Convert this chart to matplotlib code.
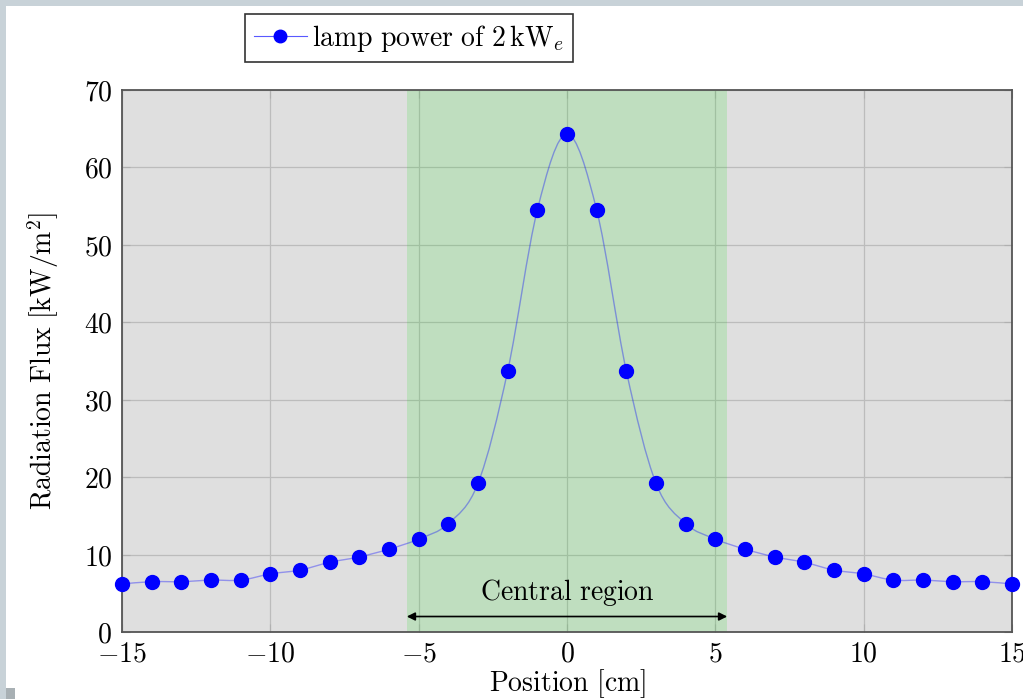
import numpy as np
import matplotlib
matplotlib.use('Agg')
import matplotlib.pyplot as plt
from matplotlib.path import Path
from matplotlib.patches import PathPatch, Rectangle
from matplotlib.ticker import FuncFormatter

plt.rcParams['mathtext.fontset'] = 'cm'
plt.rcParams['font.family'] = 'serif'

# data
position = [-15, -14, -13, -12, -11, -10, -9, -8, -7, -6, -5, -4, -3, -2, -1,
            0, 1, 2, 3, 4, 5, 6, 7, 8, 9, 10, 11, 12, 13, 14, 15]
flux = [6.2, 6.5, 6.5, 6.7, 6.7, 7.5, 8.0, 9.0, 9.7, 10.7, 12.0, 14.0, 19.2, 33.7, 54.5,
        64.3, 54.5, 33.7, 19.2, 14.0, 12.0, 10.7, 9.7, 9.0, 8.0, 7.5, 6.7, 6.7, 6.5, 6.5, 6.2]
central_lo, central_hi = -5.4, 5.4

fs = 20

fig = plt.figure(figsize=(10.23, 6.99), dpi=100, facecolor='#c8d2d8')
fig.patches.append(Rectangle((6/1023, 0), 1, 1 - 6/699, transform=fig.transFigure,
                             facecolor='white', edgecolor='none', zorder=-10))
fig.patches.append(Rectangle((6/1023, 0), 9/1023, 11/699, transform=fig.transFigure,
                             facecolor='#a8b0b4', edgecolor='none', zorder=-9))
ax = fig.add_axes([122/1023, 67/699, 890/1023, 542/699])
ax.set_facecolor('#dfdfdf')

ax.set_xlim(-15, 15)
ax.set_ylim(0, 70)
ax.set_xticks([-15, -10, -5, 0, 5, 10, 15])
ax.set_yticks(np.arange(0, 71, 10))
ax.grid(True, color='#bcbcbc', lw=0.9)
ax.set_axisbelow(True)
ax.tick_params(direction='in', length=6, color='#b0b0b0', labelsize=fs,
               top=True, right=True)
ax.tick_params(axis='x', pad=6)
ax.tick_params(axis='y', pad=7)
fmt = FuncFormatter(lambda v, p: r'$%g$' % v)
ax.xaxis.set_major_formatter(fmt)
ax.yaxis.set_major_formatter(fmt)
for s in ax.spines.values():
    s.set_color('#555555')
    s.set_linewidth(1.3)

ax.axvspan(central_lo, central_hi, color=(0, 0.87, 0), alpha=0.14, lw=0, zorder=1.5)

# smooth curve through the points (pgfplots style)
x = np.array(position, float)
y = np.array(flux, float)
verts = [(x[0], y[0])]
codes = [Path.MOVETO]
for i in range(len(x) - 1):
    xp, yp = (x[i - 1], y[i - 1]) if i > 0 else (x[i], y[i])
    xn2, yn2 = (x[i + 2], y[i + 2]) if i + 2 < len(x) else (x[i + 1], y[i + 1])
    c1 = (x[i] + (x[i + 1] - xp) / 6, y[i] + (y[i + 1] - yp) / 6)
    c2 = (x[i + 1] - (xn2 - x[i]) / 6, y[i + 1] - (yn2 - y[i]) / 6)
    verts += [c1, c2, (x[i + 1], y[i + 1])]
    codes += [Path.CURVE4] * 3
ax.add_patch(PathPatch(Path(verts, codes), facecolor='none', edgecolor='blue',
                       alpha=0.35, lw=1.0, zorder=3))
ax.plot(position, flux, ls='none', marker='o', ms=10, color='blue', zorder=4,
        clip_on=False)

# legend proxy
h, = ax.plot([], [], color=(0.35, 0.35, 1.0), lw=0.8, marker='o', ms=9,
             mfc='blue', mec='blue')
leg = fig.legend([h], [r'$\mathrm{lamp\ power\ of\ 2\,kW}_e$'], loc='center',
                 bbox_to_anchor=(409/1023, 1 - 38/699), fontsize=fs, frameon=True,
                 fancybox=False, handlelength=1.9, handletextpad=0.2,
                 borderpad=0.3, borderaxespad=0)
leg.get_frame().set_edgecolor('black')
leg.get_frame().set_linewidth(1.2)

ax.annotate('', xy=(central_lo, 2.0), xytext=(central_hi, 2.0),
            arrowprops=dict(arrowstyle='<|-|>', color='black', lw=1.2,
                            mutation_scale=12, shrinkA=0, shrinkB=0), zorder=5)
ax.text(0, 3.1, r'$\mathrm{Central\ region}$', ha='center', va='bottom',
        fontsize=fs, zorder=5)

ax.set_xlabel(r'$\mathrm{Position\ [cm]}$', fontsize=fs, labelpad=0)
ax.set_ylabel(r'$\mathrm{Radiation\ Flux\ [kW/m^2]}$', fontsize=fs, labelpad=16)

fig.savefig('out.png', dpi=100, facecolor=fig.get_facecolor())
